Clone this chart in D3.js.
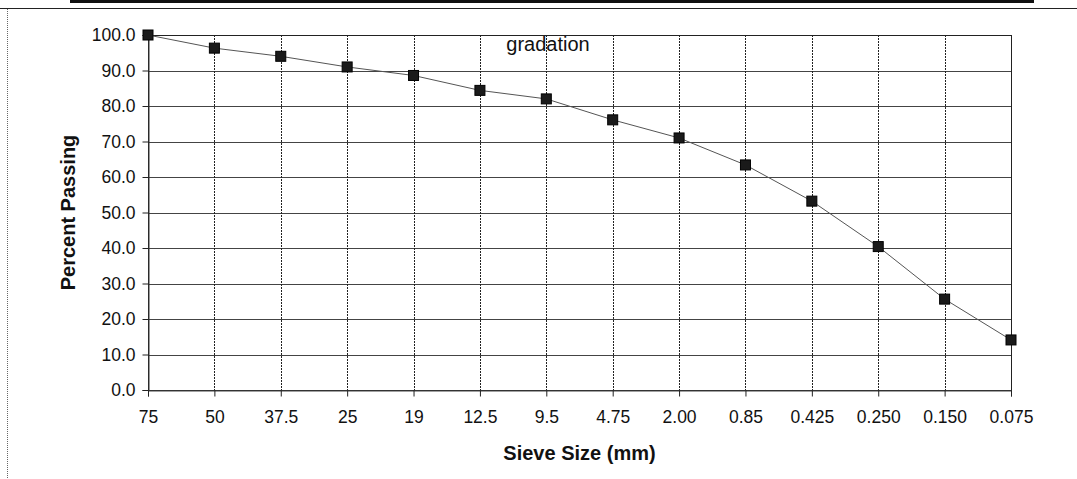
<!DOCTYPE html>
<html>
<head>
<meta charset="utf-8">
<script src="https://cdn.jsdelivr.net/npm/d3@7"></script>
<style>
  html, body { margin: 0; padding: 0; background: #fff; }
  svg { display: block; font-family: "Liberation Sans", Arial, Helvetica, sans-serif; }
</style>
</head>
<body>
<svg id="chart" width="1077" height="479"></svg>
<script>
// Sieve sizes (mm), in the order they appear along the x axis
const sieves  = ['75', '50', '37.5', '25', '19', '12.5', '9.5', '4.75', '2.00', '0.85', '0.425', '0.250', '0.150', '0.075'];
// Percent passing for each sieve
const passing = [100.0, 96.3, 94.0, 91.0, 88.6, 84.4, 82.0, 76.1, 71.0, 63.4, 53.2, 40.4, 25.6, 14.1];
const yTicks  = [0, 10, 20, 30, 40, 50, 60, 70, 80, 90, 100];

const svg = d3.select('#chart');
const W = 1077, H = 479;

// plot box
const pL = 148, pR = 1011, pT = 35, pB = 390;

const x = d3.scalePoint().domain(sieves).range([pL, pR]);
const y = d3.scaleLinear().domain([0, 100]).range([pB, pT]);

// --- outer frame (scanned sheet edges) ---
svg.append('rect')
  .attr('x', 70).attr('y', 0).attr('width', 964).attr('height', 3)
  .attr('fill', '#111');
svg.append('line')
  .attr('x1', 0).attr('x2', W).attr('y1', 8.5).attr('y2', 8.5)
  .attr('stroke', '#222').attr('stroke-width', 1);
svg.append('line')
  .attr('x1', 7.5).attr('x2', 7.5).attr('y1', 9).attr('y2', H)
  .attr('stroke', '#666').attr('stroke-width', 1).attr('stroke-dasharray', '1,1');

// --- gridlines ---
const grid = svg.append('g');
grid.selectAll('line.h')
  .data(yTicks)
  .join('line')
  .attr('class', 'h')
  .attr('x1', pL).attr('x2', pR)
  .attr('y1', d => Math.round(y(d)) + 0.5).attr('y2', d => Math.round(y(d)) + 0.5)
  .attr('stroke', '#444').attr('stroke-width', 1.1);

grid.selectAll('line.v')
  .data(sieves)
  .join('line')
  .attr('class', 'v')
  .attr('x1', d => Math.round(x(d)) + 0.5).attr('x2', d => Math.round(x(d)) + 0.5)
  .attr('y1', pT).attr('y2', pB)
  .attr('stroke', '#222').attr('stroke-width', 1).attr('stroke-dasharray', '2,1');

// plot border
svg.append('rect')
  .attr('x', pL + 0.5).attr('y', pT + 0.5)
  .attr('width', pR - pL).attr('height', pB - pT)
  .attr('fill', 'none').attr('stroke', '#222').attr('stroke-width', 1);

// --- axes ---
const tickFont = 17.5;
const yAxis = d3.axisLeft(y)
  .tickValues(yTicks)
  .tickSize(6)
  .tickPadding(7)
  .tickFormat(d3.format('.1f'));
const gy = svg.append('g')
  .attr('transform', `translate(${pL + 0.5},0)`)
  .call(yAxis);
gy.select('.domain').attr('stroke', '#333');
gy.selectAll('.tick line').attr('stroke', '#222');
gy.selectAll('.tick text')
  .attr('font-size', tickFont).attr('fill', '#111')
  .attr('font-family', '"Liberation Sans", Arial, sans-serif');

const xAxis = d3.axisBottom(x).tickSize(6).tickPadding(14);
const gx = svg.append('g')
  .attr('transform', `translate(0,${pB + 0.5})`)
  .call(xAxis);
gx.select('.domain').attr('stroke', '#444');
gx.selectAll('.tick line').attr('stroke', '#222');
gx.selectAll('.tick text')
  .attr('font-size', tickFont).attr('fill', '#111')
  .attr('font-family', '"Liberation Sans", Arial, sans-serif');

// --- series ---
const pts = sieves.map((s, i) => ({ s, v: passing[i] }));

svg.append('path')
  .datum(pts)
  .attr('fill', 'none')
  .attr('stroke', '#555')
  .attr('stroke-width', 1)
  .attr('d', d3.line().x(d => x(d.s)).y(d => y(d.v)));

const ms = 10;
svg.append('g')
  .selectAll('rect')
  .data(pts)
  .join('rect')
  .attr('x', d => x(d.s) - ms / 2)
  .attr('y', d => y(d.v) - ms / 2)
  .attr('width', ms).attr('height', ms)
  .attr('fill', '#1a1a1a')
  .attr('stroke', '#000').attr('stroke-width', 1);

// --- titles ---
svg.append('text')
  .attr('x', 548).attr('y', 51)
  .attr('text-anchor', 'middle')
  .attr('font-size', 20).attr('fill', '#111')
  .text('gradation');

svg.append('text')
  .attr('x', (pL + pR) / 2).attr('y', 460)
  .attr('text-anchor', 'middle')
  .attr('font-size', 20).attr('font-weight', 'bold').attr('fill', '#111')
  .text('Sieve Size (mm)');

svg.append('text')
  .attr('transform', `translate(75,${(pT + pB) / 2}) rotate(-90)`)
  .attr('text-anchor', 'middle')
  .attr('font-size', 20).attr('font-weight', 'bold').attr('fill', '#111')
  .text('Percent Passing');
</script>
</body>
</html>
